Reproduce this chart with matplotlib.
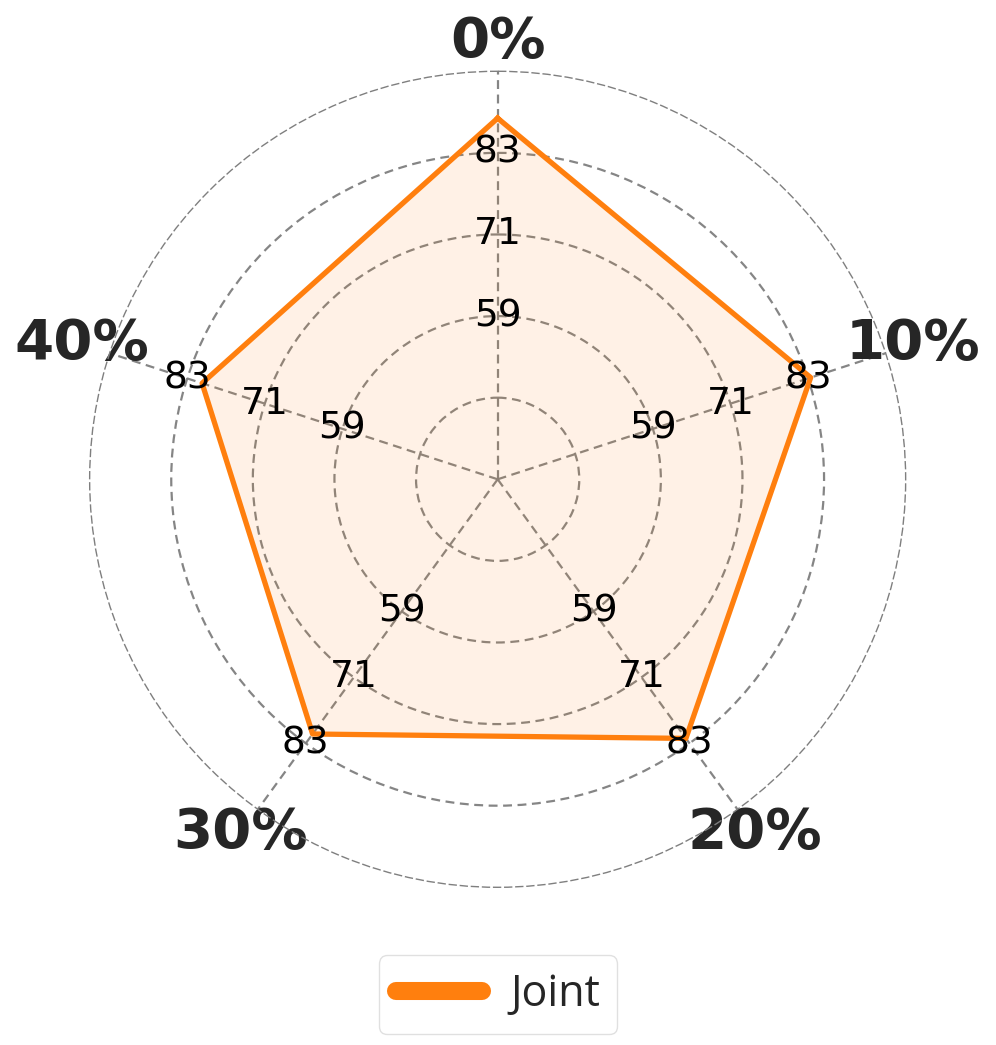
"""Radar chart of the Joint scores per noise level"""

import numpy as np
import matplotlib
matplotlib.use('Agg')
import matplotlib.pyplot as plt

# Data
categories = ['0%', '10%', '20%', '30%', '40%']
joint = [88.1, 83.4, 82.1, 81.3, 80.7]
grid_values = [47, 59, 71, 83]
label_values = [59, 71, 83]
r_min, r_max = 35, 95

orange = '#ff7f0e'
grid_color = '#7f7f7f'
text_dark = '#262626'

angles = np.linspace(0, 2 * np.pi, len(categories), endpoint=False)
closed_angles = np.append(angles, angles[0])
closed_joint = np.append(joint, joint[0])

fig = plt.figure(figsize=(9.96, 10.45), dpi=100)
ax = fig.add_axes([0.0900, 0.1509, 0.8193, 0.7809], projection='polar')
ax.set_theta_offset(np.pi / 2)
ax.set_theta_direction(-1)
ax.set_ylim(r_min, r_max)

# Radar polygon
ax.plot(closed_angles, closed_joint, color=orange, lw=3.8, label='Joint', zorder=3)
ax.fill(closed_angles, closed_joint, color=orange, alpha=0.1, zorder=2)

# Grid: dashed circles and spokes
ax.set_yticks(grid_values)
ax.set_yticklabels([])
ax.set_xticks(angles)
ax.set_xticklabels(categories, fontsize=40.5, fontweight='bold', color=text_dark)
ax.tick_params(axis='x', pad=14, length=0)
ax.grid(True, color=grid_color, linestyle=(0, (4, 2.5)), lw=1.6, alpha=0.95)
ax.spines['polar'].set_linestyle((0, (5, 3)))
ax.spines['polar'].set_linewidth(1.0)
ax.spines['polar'].set_color(grid_color)

# Value labels on every spoke
for a in angles:
    for v in label_values:
        ax.text(a, v, str(v), fontsize=27, ha='center', va='center',
                color='black', zorder=4)

fig.legend(loc='center', bbox_to_anchor=(0.5, 0.048),
           prop={'family': 'Open Sans', 'size': 31},
           handlelength=2.0, handletextpad=0.65, frameon=True,
           edgecolor='#d9d9d9', labelcolor=text_dark)
leg = fig.legends[0]
for line in leg.get_lines():
    line.set_linewidth(13)
    line.set_solid_capstyle('round')

fig.savefig('out.png', dpi=100)
